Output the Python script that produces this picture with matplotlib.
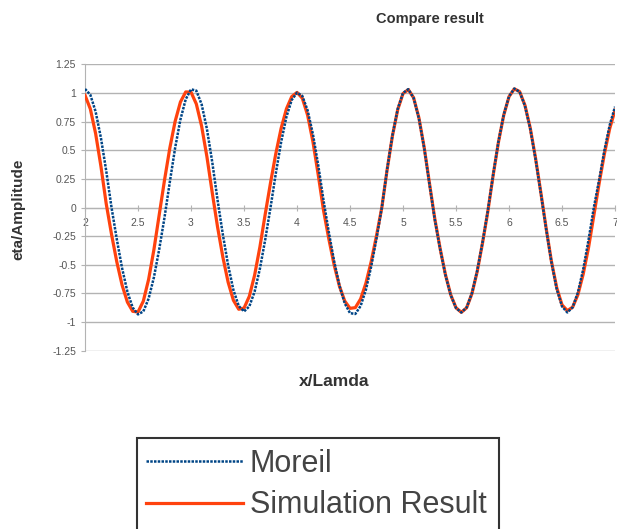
#! /usr/bin/env python
import numpy as np
import matplotlib
matplotlib.use('Agg')
import matplotlib.pyplot as plt
from matplotlib.patches import Rectangle

# x/Lamda sample positions, every 0.05
x_lamda = [2.00, 2.05, 2.10, 2.15, 2.20, 2.25, 2.30, 2.35, 2.40, 2.45,
           2.50, 2.55, 2.60, 2.65, 2.70, 2.75, 2.80, 2.85, 2.90, 2.95,
           3.00, 3.05, 3.10, 3.15, 3.20, 3.25, 3.30, 3.35, 3.40, 3.45,
           3.50, 3.55, 3.60, 3.65, 3.70, 3.75, 3.80, 3.85, 3.90, 3.95,
           4.00, 4.05, 4.10, 4.15, 4.20, 4.25, 4.30, 4.35, 4.40, 4.45,
           4.50, 4.55, 4.60, 4.65, 4.70, 4.75, 4.80, 4.85, 4.90, 4.95,
           5.00, 5.05, 5.10, 5.15, 5.20, 5.25, 5.30, 5.35, 5.40, 5.45,
           5.50, 5.55, 5.60, 5.65, 5.70, 5.75, 5.80, 5.85, 5.90, 5.95,
           6.00, 6.05, 6.10, 6.15, 6.20, 6.25, 6.30, 6.35, 6.40, 6.45,
           6.50, 6.55, 6.60, 6.65, 6.70, 6.75, 6.80, 6.85, 6.90, 6.95,
           7.00]

moreil = [1.035, 0.984, 0.837, 0.608, 0.320, 0.000, -0.278, -0.531, -0.736, -0.874,
          -0.933, -0.907, -0.795, -0.609, -0.364, -0.086, 0.223, 0.520, 0.768, 0.945,
          1.032, 1.020, 0.901, 0.686, 0.398, 0.068, -0.235, -0.504, -0.720, -0.859,
          -0.907, -0.863, -0.734, -0.533, -0.280, 0.000, 0.299, 0.571, 0.791, 0.939,
          1.003, 0.974, 0.848, 0.640, 0.370, 0.063, -0.216, -0.468, -0.681, -0.836,
          -0.922, -0.929, -0.859, -0.717, -0.514, -0.269, 0.000, 0.333, 0.630, 0.860,
          1.000, 1.033, 0.956, 0.778, 0.518, 0.202, -0.106, -0.362, -0.589, -0.765,
          -0.877, -0.916, -0.873, -0.748, -0.552, -0.304, -0.029, 0.285, 0.574, 0.810,
          0.970, 1.038, 1.010, 0.889, 0.689, 0.426, 0.125, -0.186, -0.476, -0.711,
          -0.863, -0.916, -0.871, -0.741, -0.539, -0.283, 0.000, 0.240, 0.500, 0.720,
          0.880]

simulation = [0.980, 0.861, 0.646, 0.360, 0.033, -0.234, -0.475, -0.678, -0.826, -0.906,
              -0.912, -0.817, -0.627, -0.367, -0.063, 0.240, 0.519, 0.752, 0.921, 1.009,
              1.007, 0.904, 0.710, 0.443, 0.131, -0.168, -0.431, -0.652, -0.810, -0.888,
              -0.878, -0.775, -0.590, -0.343, -0.058, 0.216, 0.471, 0.691, 0.861, 0.968,
              1.005, 0.954, 0.806, 0.575, 0.286, -0.025, -0.274, -0.500, -0.686, -0.816,
              -0.880, -0.874, -0.798, -0.660, -0.471, -0.245, 0.000, 0.330, 0.625, 0.855,
              0.995, 1.030, 0.958, 0.782, 0.522, 0.208, -0.100, -0.358, -0.585, -0.762,
              -0.875, -0.915, -0.875, -0.752, -0.558, -0.310, -0.035, 0.280, 0.570, 0.806,
              0.968, 1.036, 1.012, 0.893, 0.695, 0.432, 0.132, -0.180, -0.470, -0.700,
              -0.850, -0.900, -0.870, -0.760, -0.580, -0.350, -0.070, 0.210, 0.470, 0.690,
              0.850]

y_ticks = [1.25, 1, 0.75, 0.5, 0.25, 0, -0.25, -0.5, -0.75, -1, -1.25]
x_ticks = [2, 2.5, 3, 3.5, 4, 4.5, 5, 5.5, 6, 6.5, 7]

plt.rcParams['font.family'] = ['Liberation Sans', 'DejaVu Sans']

fig = plt.figure(figsize=(6.17, 5.29), dpi=100)
ax = fig.add_axes([0.1378, 0.337, 0.859, 0.5414])

grid_col = '#b3b3b3'
ax.set_yticks(y_ticks)
ax.yaxis.grid(True, color=grid_col, linewidth=1)
ax.set_axisbelow(True)

ax.plot(x_lamda, simulation, color='#ff420e', linewidth=2.3, label='Simulation Result', zorder=3)
ax.plot(x_lamda, moreil, color='#004586', linewidth=1.8, linestyle=(0, (1, 0.5)),
        label='Moreil', zorder=4)

ax.set_xlim(2, 7)
ax.set_ylim(-1.25, 1.25)
ax.set_xticks(x_ticks)
ax.set_xticklabels(['{:g}'.format(t) for t in x_ticks])
ax.set_yticklabels(['{:g}'.format(t) for t in y_ticks])

for s in ['top', 'right']:
    ax.spines[s].set_visible(False)
ax.spines['left'].set_color(grid_col)
ax.spines['bottom'].set_position(('data', 0))
ax.spines['bottom'].set_color(grid_col)
ax.tick_params(axis='both', colors=grid_col, labelcolor='#555555', labelsize=7.5, length=3)
ax.tick_params(axis='x', direction='inout', length=5, pad=5)

fig.text(0.697, 0.964, 'Compare result', ha='center', va='center', fontsize=10.5, fontweight='bold', color='#333333')
fig.text(0.029, 0.605, 'eta/Amplitude', ha='center', va='center', rotation=90, fontsize=11, fontweight='bold', color='#333333')
fig.text(0.541, 0.278, 'x/Lamda', ha='center', va='center', fontsize=12.5, fontweight='bold', color='#333333')

# legend box runs off the bottom of the picture
box = Rectangle((0.222, -0.05), 0.587, 0.222, transform=fig.transFigure, fill=False,
                edgecolor='#333333', linewidth=1.5)
fig.add_artist(box)

handles, labels = ax.get_legend_handles_labels()
leg = fig.legend(handles[::-1], labels[::-1], loc='upper left', bbox_to_anchor=(0.2366, 0.152),
                 frameon=False, fontsize=22, handlelength=3.17, handletextpad=0.23,
                 borderpad=0, labelspacing=0.38, borderaxespad=0)
for t in leg.get_texts():
    t.set_color('#444444')

plt.savefig('out.png', dpi=100)
